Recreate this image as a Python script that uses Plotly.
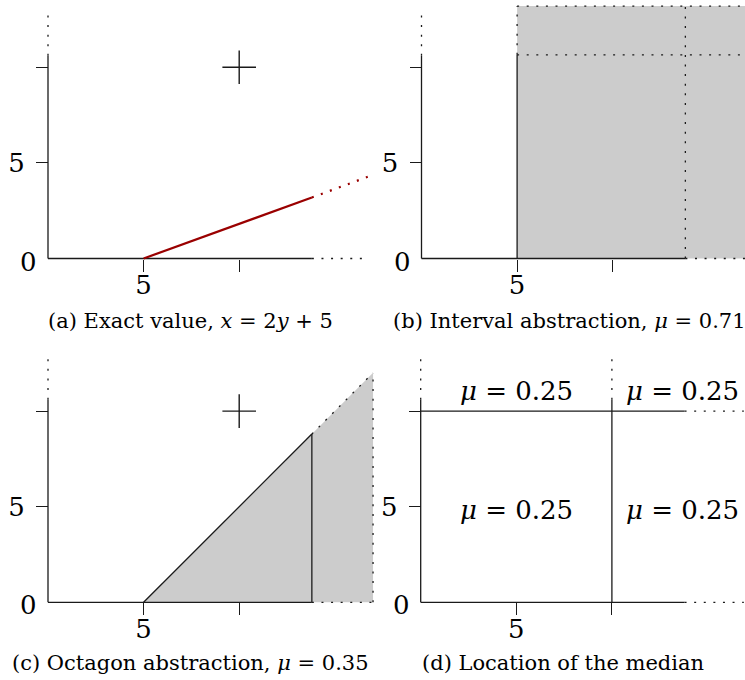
import plotly.graph_objects as go

# ---------------- data (chart units) ----------------
x_tick_vals = [5, 10]
x_tick_text = ["5", ""]
y_tick_vals = [5, 10]
y_tick_text = ["5", ""]
origin_text = "0"

# common axis extents
axis_x_solid = [0, 13.8]          # bottom axis, solid part
axis_x_dotted_a = [13.8, 16.6]    # bottom axis, dotted continuation
axis_y_solid = [0, 10.6]          # left axis, solid part
axis_y_dotted = [10.6, 12.9]      # left axis, dotted continuation

# (a) exact value
exact_solid_x = [5, 13.8]
exact_solid_y = [0, 3.19]
exact_dotted_x = [13.8, 16.8]
exact_dotted_y = [3.19, 4.3]
point_x = [10]
point_y = [10]

# (b) interval abstraction
interval_fill_x = [5, 17.5, 17.5, 5]
interval_fill_y = [0, 0, 13.2, 13.2]
interval_left = 5
interval_right = 13.8
interval_mid = 10.65
interval_top = 13.2
interval_edge = 17.5

# (c) octagon abstraction
octagon_fill_x = [5, 13.8, 17, 17]
octagon_fill_y = [0, 8.8, 12, 0]

# (d) location of the median
median_split_x = 10
median_split_y = 10
median_edge = 16.9
mu_label_x = [5, 13.7, 5, 13.7]
mu_label_y = [11.1, 11.1, 4.9, 4.9]
mu_label_text = ["<i>μ</i> = 0.25", "<i>μ</i> = 0.25", "<i>μ</i> = 0.25", "<i>μ</i> = 0.25"]

captions = [
    "(a) Exact value, <i>x</i> = 2<i>y</i> + 5",
    "(b) Interval abstraction, <i>μ</i> = 0.71",
    "(c) Octagon abstraction, <i>μ</i> = 0.35",
    "(d) Location of the median",
]

# ---------------- layout geometry (pixels) ----------------
W, H = 745, 680
S = 19.12  # pixels per unit
# panel: (origin px x, origin px y, domain px x0, x1, y0(top), y1(bottom))
panels = [
    (48.0, 258.5, 0, 385, 0, 340),
    (421.5, 258.5, 386, 745, 0, 340),
    (48.0, 602.3, 0, 385, 340, 680),
    (420.7, 602.3, 386, 745, 340, 680),
]
caption_pos = [(190, 321), (569, 321), (190, 663), (563, 663)]

FONT = "DejaVu Serif"
INK = "#1a1a1a"
GRAY = "#cccccc"
RED = "#9a0000"
DOT = "2px,7.6px"

fig = go.Figure()


def axref(i):
    return ("x" if i == 0 else f"x{i+1}", "y" if i == 0 else f"y{i+1}")


def segs(i, segments, dash=None, color=INK, width=1.3):
    xs, ys = [], []
    for (x0, y0), (x1, y1) in segments:
        xs += [x0, x1, None]
        ys += [y0, y1, None]
    xa, ya = axref(i)
    fig.add_trace(go.Scatter(x=xs, y=ys, mode="lines", xaxis=xa, yaxis=ya,
                             line=dict(color=color, width=width, dash=dash or "solid"),
                             hoverinfo="skip", showlegend=False))


def fill(i, xs, ys):
    xa, ya = axref(i)
    fig.add_trace(go.Scatter(x=xs, y=ys, mode="lines", fill="toself", fillcolor=GRAY,
                             line=dict(width=0, color=GRAY), xaxis=xa, yaxis=ya,
                             hoverinfo="skip", showlegend=False))


def cross(i):
    xa, ya = axref(i)
    fig.add_trace(go.Scatter(x=point_x, y=point_y, mode="markers", xaxis=xa, yaxis=ya,
                             marker=dict(symbol="cross-thin", size=24,
                                         line=dict(width=1.4, color=INK)),
                             hoverinfo="skip", showlegend=False))


def left_axis(i):
    segs(i, [((0, axis_y_solid[0]), (0, axis_y_solid[1]))])
    segs(i, [((0, axis_y_dotted[0]), (0, axis_y_dotted[1]))], dash=DOT)


# ---- (a)
left_axis(0)
segs(0, [((axis_x_solid[0], 0), (axis_x_solid[1], 0))])
segs(0, [((axis_x_dotted_a[0], 0), (axis_x_dotted_a[1], 0))], dash=DOT)
segs(0, [((exact_solid_x[0], exact_solid_y[0]), (exact_solid_x[1], exact_solid_y[1]))],
     color=RED, width=2.2)
segs(0, [((exact_dotted_x[0], exact_dotted_y[0]), (exact_dotted_x[1], exact_dotted_y[1]))],
     color=RED, width=2.2, dash=DOT)
cross(0)

# ---- (b)
fill(1, interval_fill_x, interval_fill_y)
left_axis(1)
segs(1, [((axis_x_solid[0], 0), (interval_right, 0)),
         ((interval_left, 0), (interval_left, interval_mid))])
segs(1, [((interval_right, 0), (interval_edge, 0)),
         ((interval_left, interval_mid), (interval_left, interval_top)),
         ((interval_left, interval_mid), (interval_edge, interval_mid)),
         ((interval_left, interval_top), (interval_edge, interval_top)),
         ((interval_right, 0), (interval_right, interval_top))], dash=DOT)

# ---- (c)
fill(2, octagon_fill_x, octagon_fill_y)
left_axis(2)
segs(2, [((axis_x_solid[0], 0), (octagon_fill_x[1], 0)),
         ((octagon_fill_x[0], octagon_fill_y[0]), (octagon_fill_x[1], octagon_fill_y[1])),
         ((octagon_fill_x[1], 0), (octagon_fill_x[1], octagon_fill_y[1]))])
segs(2, [((octagon_fill_x[1], 0), (octagon_fill_x[3], 0)),
         ((octagon_fill_x[1], octagon_fill_y[1]), (octagon_fill_x[2], octagon_fill_y[2])),
         ((octagon_fill_x[3], 0), (octagon_fill_x[2], octagon_fill_y[2]))], dash=DOT)
cross(2)

# ---- (d)
left_axis(3)
segs(3, [((median_split_x, 0), (median_split_x, axis_y_solid[1])),
         ((0, 0), (axis_x_solid[1], 0)),
         ((0, median_split_y), (axis_x_solid[1], median_split_y))])
segs(3, [((median_split_x, axis_y_dotted[0]), (median_split_x, axis_y_dotted[1])),
         ((axis_x_solid[1], 0), (median_edge, 0)),
         ((axis_x_solid[1], median_split_y), (median_edge, median_split_y))], dash=DOT)

annotations = []
for k in range(4):
    xa, ya = axref(k)
    annotations.append(dict(x=0, y=0, xref=xa, yref=ya, text=origin_text, showarrow=False,
                            xanchor="right", yanchor="middle", xshift=-9, yshift=-3,
                            font=dict(family=FONT, size=26, color="black")))
for lx, ly, lt in zip(mu_label_x, mu_label_y, mu_label_text):
    annotations.append(dict(x=lx, y=ly, xref="x4", yref="y4", text=lt, showarrow=False,
                            xanchor="center", yanchor="middle", yshift=-1,
                            font=dict(family=FONT, size=26, color="black")))
for (cx, cy), txt in zip(caption_pos, captions):
    annotations.append(dict(x=cx / W, y=1 - cy / H, xref="paper", yref="paper", text=txt,
                            showarrow=False, xanchor="center", yanchor="middle",
                            font=dict(family=FONT, size=21, color="black")))

layout = dict(width=W, height=H, margin=dict(l=0, r=0, t=0, b=0),
              paper_bgcolor="white", plot_bgcolor="rgba(0,0,0,0)",
              showlegend=False, annotations=annotations)

for k, (ox, oy, dx0, dx1, dy0, dy1) in enumerate(panels):
    sfx = "" if k == 0 else str(k + 1)
    common = dict(showgrid=False, zeroline=False, showline=False, ticks="outside",
                  ticklen=12, tickwidth=1.3, tickcolor=INK, tickmode="array",
                  tickfont=dict(family=FONT, size=26, color="black"),
                  fixedrange=True, anchor="free")
    layout["xaxis" + sfx] = dict(common, domain=[dx0 / W, dx1 / W],
                                 range=[(dx0 - ox) / S, (dx1 - ox) / S],
                                 position=1 - oy / H, ticklabelstandoff=-9,
                                 tickvals=x_tick_vals, ticktext=x_tick_text)
    layout["yaxis" + sfx] = dict(common, domain=[1 - dy1 / H, 1 - dy0 / H],
                                 range=[(oy - dy1) / S, (oy - dy0) / S],
                                 position=ox / W, ticklabelstandoff=6,
                                 tickvals=y_tick_vals, ticktext=y_tick_text)

fig.update_layout(**layout)
fig.write_html("out.html", config={"displayModeBar": False},
               post_script="document.body.style.margin='0';document.body.style.overflow='hidden';")
